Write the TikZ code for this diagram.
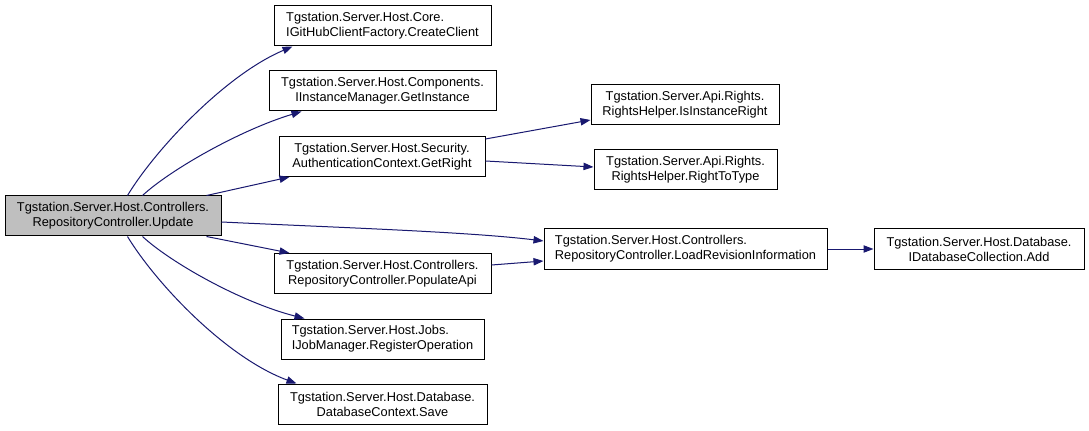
\documentclass[tikz,border=0pt]{standalone}
\usepackage{fontspec}
\setmainfont{Liberation Sans}
\usetikzlibrary{arrows.meta,calc}
\definecolor{edgecol}{HTML}{191970}
\definecolor{curfill}{HTML}{BFBFBF}
\begin{document}
\begin{tikzpicture}[x=0.75pt,y=-0.75pt,
  box/.style={draw=black,line width=0.75pt,fill=white,rectangle,inner sep=0pt,
    minimum height=30pt,align=center,font=\fontsize{9.6}{11.25}\selectfont},
  lbox/.style={box,align=left},
  curbox/.style={box,fill=curfill},
  call/.style={draw=edgecol,line width=0.75pt,-{Triangle[length=7.5pt,width=5.5pt]},fill=none}]
\useasboundingbox (0,0) rectangle (1089,431);
\fill[white] (0,0) rectangle (1089,431);
\node[curbox,minimum width=162pt] (upd) at (113,216) {Tgstation.Server.Host.Controllers.\\RepositoryController.Update};
\node[lbox,minimum width=162.75pt] (cc) at (382.5,26) {Tgstation.Server.Host.Core.\\IGitHubClientFactory.CreateClient};
\node[box,minimum width=170.25pt] (gi) at (382.5,91) {Tgstation.Server.Host.Components.\\IInstanceManager.GetInstance};
\node[box,minimum width=154.5pt] (gr) at (382,156.5) {Tgstation.Server.Host.Security.\\AuthenticationContext.GetRight};
\node[box,minimum width=162.75pt] (pa) at (382.5,273.5) {Tgstation.Server.Host.Controllers.\\RepositoryController.PopulateApi};
\node[lbox,minimum width=152.25pt] (ro) at (382.5,339) {Tgstation.Server.Host.Jobs.\\IJobManager.RegisterOperation};
\node[box,minimum width=156.75pt] (sv) at (382.5,404) {Tgstation.Server.Host.Database.\\DatabaseContext.Save};
\node[box,minimum width=141pt] (iir) at (685,104.5) {Tgstation.Server.Api.Rights.\\RightsHelper.IsInstanceRight};
\node[box,minimum width=137.25pt] (rtt) at (685.5,170) {Tgstation.Server.Api.Rights.\\RightsHelper.RightToType};
\node[lbox,minimum width=212.25pt] (lri) at (685.5,249) {Tgstation.Server.Host.Controllers.\\RepositoryController.LoadRevisionInformation};
\node[box,minimum width=157.5pt] (add) at (979,249) {Tgstation.Server.Host.Database.\\IDatabaseCollection.Add};
% edges from Update
\draw[call] ($(upd.north west)+(123,0)$) .. controls (155,150) and (225,75) .. ($(cc.south west)+(19,0)$);
\draw[call] ($(upd.north west)+(138,0)$) .. controls (170,170) and (240,130) .. ($(gi.south west)+(33,0)$);
\draw[call] ($(upd.north west)+(202,0)$) -- ($(gr.south west)+(11,0)$);
\draw[call] ($(upd.east)+(0,6)$) .. controls (350,228) and (470,232) .. ($(lri.west)+(0,-8)$);
\draw[call] ($(upd.south west)+(202,0)$) -- ($(pa.north west)+(16,0)$);
\draw[call] ($(upd.south west)+(138,0)$) .. controls (170,262) and (240,302) .. ($(ro.north west)+(24,0)$);
\draw[call] ($(upd.south west)+(123,0)$) .. controls (155,282) and (225,357) .. ($(sv.north west)+(19,0)$);
% other edges
\draw[call] ($(gr.north east)+(0,3)$) -- ($(iir.west)+(0,15.5)$);
\draw[call] ($(gr.east)+(0,4.5)$) -- ($(rtt.west)+(0,-3)$);
\draw[call] ($(pa.east)+(0,-8.5)$) -- ($(lri.west)+(0,12)$);
\draw[call] (lri.east) -- (add.west);
\end{tikzpicture}
\end{document}
